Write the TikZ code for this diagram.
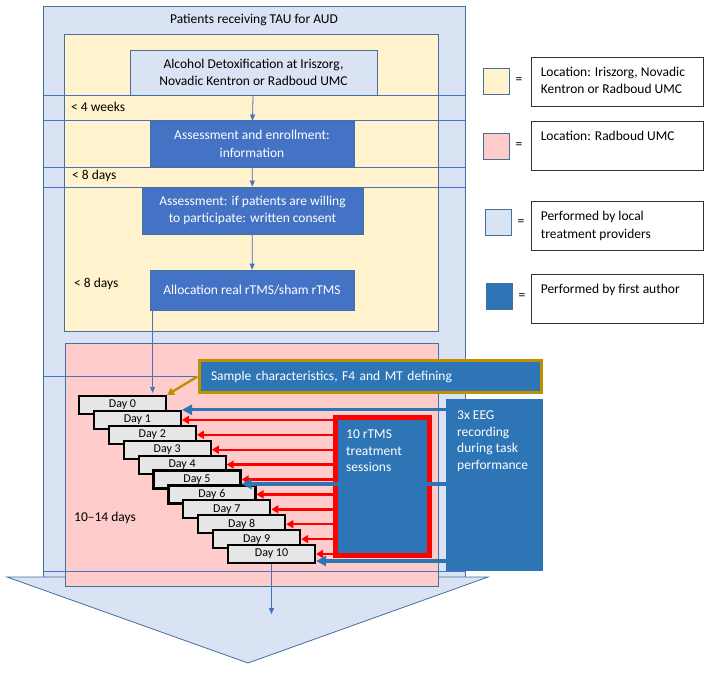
\documentclass[tikz,border=0pt]{standalone}
\usepackage{fontspec}
\setmainfont{Carlito}
\usepackage{tikz}
\usetikzlibrary{arrows.meta,positioning}
\definecolor{Edge}{RGB}{65,113,156}
\definecolor{Line}{RGB}{68,114,196}
\definecolor{PaleBlue}{RGB}{218,227,243}
\definecolor{Cream}{RGB}{255,242,204}
\definecolor{Rose}{RGB}{255,204,204}
\definecolor{MidBlue}{RGB}{68,114,196}
\definecolor{DeepBlue}{RGB}{46,117,182}
\definecolor{Gold}{RGB}{191,144,0}
\definecolor{DayGray}{RGB}{231,230,230}

\begin{document}
\begin{tikzpicture}[x=1pt,y=-1pt,
  font=\fontsize{13.5}{17.7}\selectfont,
  panel/.style={draw=Edge,line width=0.8pt,anchor=north west,inner sep=0pt},
  lightbox/.style={draw=Edge,fill=PaleBlue,line width=0.8pt,align=center,inner sep=0pt},
  stepbox/.style={draw=Edge,fill=MidBlue,text=white,line width=0.8pt,align=center,inner sep=0pt},
  authorbox/.style={fill=DeepBlue,text=white,anchor=north west,inner sep=0pt},
  daybox/.style={draw=black,fill=DayGray,line width=2.2pt,minimum width=87,minimum height=18,inner sep=0pt,font=\fontsize{12}{13}\selectfont},
  boxtext/.style={anchor=north west,align=left,inner sep=0pt,font=\fontsize{13.5}{16.7}\selectfont},
  rule/.style={draw=Line,line width=0.6pt},
  flow/.style={draw=Line,line width=0.8pt,-{Triangle[length=6pt,width=5pt]}},
  redarr/.style={draw=red,line width=2.4pt,-{Triangle[length=7pt,width=8pt]}},
  bluearr/.style={draw=DeepBlue,line width=3.2pt,-{Triangle[length=10pt,width=10pt]}},
  goldarr/.style={draw=Gold,line width=2.4pt,-{Triangle[length=7pt,width=8pt]}},
  swatch/.style={draw=Edge,line width=1pt,minimum size=26,inner sep=0pt},
  keybox/.style={draw=black!80,line width=0.8pt,minimum width=172,minimum height=49,inner sep=0pt},
  keytext/.style={anchor=north west,align=left,inner sep=0pt}]

\useasboundingbox (0,0) rectangle (709,672);

% outer frame and big arrow
\node[panel,fill=PaleBlue,minimum width=422,minimum height=571] (outer) at (43,6) {};
\filldraw[fill=PaleBlue,draw=Edge,line width=0.8pt] (7,577) -- (488,577) -- (248,663) -- cycle;
\node (title) at (254,20) {Patients receiving TAU for AUD};

% intake site
\node[panel,fill=Cream,minimum width=374,minimum height=297] (site) at (64,34) {};
\foreach \y in {95,120,167,187}
  \draw[rule] (43,\y) -- (465,\y);

\node[lightbox,minimum width=247,minimum height=45] (detox) at (253.5,72.5) {Alcohol Detoxification at Iriszorg,\\Novadic Kentron or Radboud UMC};
\node[stepbox,minimum width=204,minimum height=46] (enrol) at (252,144) {Assessment and enrollment:\\information};
\node[stepbox,minimum width=221,minimum height=47] (consent) at (252.5,210.5) {Assessment: if patients are willing\\to participate: written consent};
\node[stepbox,minimum width=204,minimum height=40] (alloc) at (252,290) {Allocation real rTMS/sham rTMS};

\draw[flow] (detox) -- (enrol);
\draw[flow] (enrol) -- (consent);
\draw[flow] (consent) -- (alloc);

\node[anchor=west,inner sep=0pt] (wait1) at (71,107) {< 4 weeks};
\node[anchor=west,inner sep=0pt] (wait2) at (72,176) {< 8 days};
\node[anchor=west,inner sep=0pt] (wait3) at (74,284) {< 8 days};

% treatment site
\node[panel,fill=Rose,minimum width=373,minimum height=243] (umc) at (65,343) {};
\draw[rule] (43,376) -- (196,376);
\draw[rule] (43,571) -- (465,571);
\node[anchor=west,inner sep=0pt] (span) at (74,518) {10--14 days};

\coordinate (a0) at ([xshift=3pt]alloc.south west);

\node[authorbox,draw=Gold,line width=3pt,anchor=west,minimum height=32,text width=318,inner xsep=12pt,align=left] (sample) at (197.5,376.5) {Sample characteristics, F4 and MT defining};

\foreach \i in {0,...,10}
  \node[daybox] (d\i) at ({122.5+14.9*\i},{405+14.9*\i}) {Day \i};

\draw[flow,shorten >=2pt] (a0) -- (a0 |- d0.north);
\draw[goldarr] (sample.west) -- (d0.north east);

\node[authorbox,draw=red,line width=5pt,anchor=center,minimum width=94,minimum height=138] (rtms) at (382.5,486.5) {};
\node[boxtext,text=white] (rtmstext) at ([xshift=13pt,yshift=-14.5pt]rtms.north west) {10 rTMS\\treatment\\sessions};
\foreach \i in {1,...,10}
  \draw[redarr] (rtms.west |- d\i.east) -- (d\i.east);

\node[authorbox,minimum width=97,minimum height=172] (eeg) at (446,399) {};
\node[boxtext,text=white] (eegtext) at ([xshift=11pt,yshift=-11.5pt]eeg.north west) {3x EEG\\recording\\during task\\performance};
\coordinate (t5) at ([yshift=-4.5pt]d5.east);
\coordinate (t10) at ([yshift=-7pt]d10.east);
\draw[bluearr] (eeg.west |- d1.north east) -- (d1.north east);
\draw[bluearr] (eeg.west |- t5) -- (t5);
\draw[bluearr] (eeg.west |- t10) -- (t10);

\coordinate (out) at ([yshift=-50pt]d10.south);
\draw[flow] (d10.south) -- (out);

% legend
\node[swatch,fill=Cream] (sw1) at (496,81) {};
\node[swatch,fill=Rose] (sw2) at (496,146) {};
\node[swatch,fill=PaleBlue] (sw3) at (498,222.5) {};
\node[swatch,fill=DeepBlue] (sw4) at (499,296.5) {};
\foreach \k in {1,...,4}
  \node[right=4pt of sw\k,inner sep=2pt] (eq\k) {=};

\node[keybox] (key1) at (617,81.5) {};
\node[keybox] (key2) at (617,146) {};
\node[keybox] (key3) at (617,226) {};
\node[keybox] (key4) at (617,298.5) {};
\node[keytext] (key1t) at ([xshift=10pt,yshift=-10pt]key1.north west) {Location: Iriszorg, Novadic\\Kentron or Radboud UMC};
\node[keytext] (key2t) at ([xshift=10pt,yshift=-10pt]key2.north west) {Location: Radboud UMC};
\node[keytext] (key3t) at ([xshift=10pt,yshift=-10pt]key3.north west) {Performed by local\\treatment providers};
\node[keytext] (key4t) at ([xshift=10pt,yshift=-10pt]key4.north west) {Performed by first author};
\end{tikzpicture}
\end{document}
